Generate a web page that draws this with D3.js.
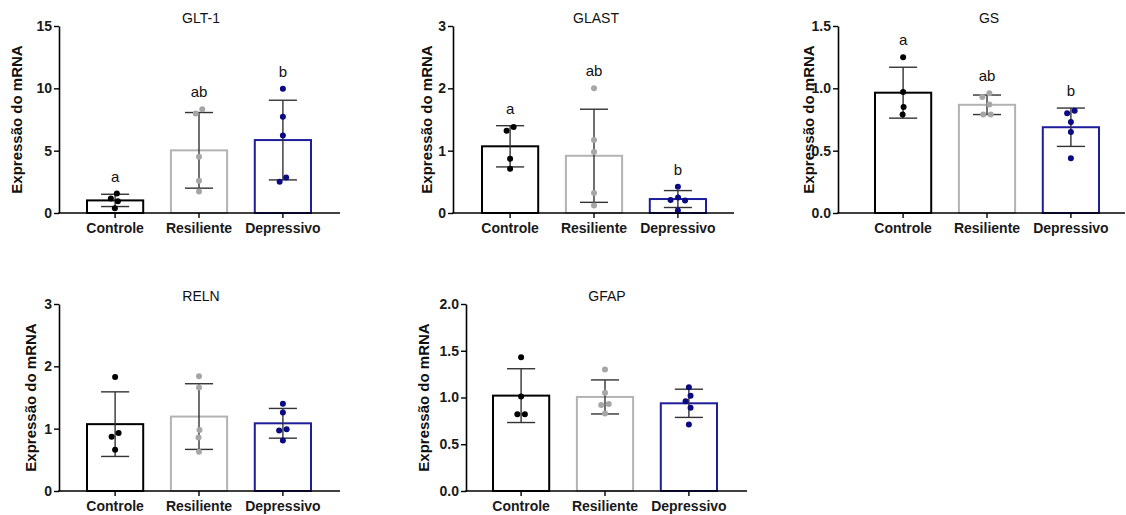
<!DOCTYPE html>
<html>
<head>
<meta charset="utf-8">
<script src="https://cdn.jsdelivr.net/npm/d3@7"></script>
<style>
  body { margin: 0; background: #fff; }
  svg { display: block; }
</style>
</head>
<body>
<svg id="chart" width="1126" height="515"></svg>
<script>
// Experimental groups
const groups = ["Controle", "Resiliente", "Depressivo"];

// Relative mRNA expression per animal, one inner list per group
const glt1 = [[1.56, 1.16, 0.94, 0.38], [8.33, 7.98, 4.52, 2.58, 1.72], [9.97, 7.72, 6.21, 2.85, 2.50]];
const glast = [[1.38, 1.32, 0.87, 0.71], [2.00, 1.17, 0.98, 0.32, 0.12], [0.42, 0.25, 0.21, 0.20, 0.04]];
const gs = [[1.25, 0.97, 0.85, 0.79], [0.96, 0.93, 0.87, 0.79, 0.79], [0.82, 0.80, 0.73, 0.65, 0.44]];
const reln = [[1.83, 0.93, 0.87, 0.66], [1.84, 1.66, 0.98, 0.86, 0.63], [1.40, 1.26, 0.99, 0.97, 0.81]];
const gfap = [[1.43, 1.01, 0.82, 0.82], [1.30, 1.05, 0.93, 0.92, 0.83], [1.11, 1.02, 0.96, 0.89, 0.71]];

// Y-axis tick values
const glt1Ticks = [0, 5, 10, 15];
const glastTicks = [0, 1, 2, 3];
const gsTicks = [0, 0.5, 1.0, 1.5];
const relnTicks = [0, 1, 2, 3];
const gfapTicks = [0, 0.5, 1.0, 1.5, 2.0];

// Significance letters (groups sharing a letter do not differ)
const glt1Letters = ["a", "ab", "b"];
const glastLetters = ["a", "ab", "b"];
const gsLetters = ["a", "ab", "b"];

const yLabel = "Expressão do mRNA";

// Group styling
const barStroke = ["#000000", "#b3b3b3", "#1e1e9c"];
const dotFill = ["#000000", "#a6a6a6", "#0a0a82"];
const errColor = "#333333";

// Panel placement on the page
const panels = [
  { title: "GLT-1", data: glt1, ticks: glt1Ticks, fmt: d3.format("d"), letters: glt1Letters,
    ax: 59, axEnd: 340, barL: 87, top: 26, bottom: 213, labelX: 17 },
  { title: "GLAST", data: glast, ticks: glastTicks, fmt: d3.format("d"), letters: glastLetters,
    ax: 453, axEnd: 734, barL: 482, top: 26, bottom: 213, labelX: 426.5 },
  { title: "GS", data: gs, ticks: gsTicks, fmt: d3.format(".1f"), letters: gsLetters,
    ax: 838, axEnd: 1125, barL: 875, top: 26, bottom: 213, labelX: 809 },
  { title: "RELN", data: reln, ticks: relnTicks, fmt: d3.format("d"), letters: null,
    ax: 59, axEnd: 340, barL: 87, top: 304, bottom: 491, labelX: 31 },
  { title: "GFAP", data: gfap, ticks: gfapTicks, fmt: d3.format(".1f"), letters: null,
    ax: 466, axEnd: 747, barL: 493, top: 304, bottom: 491, labelX: 424 }
];

const FONT = "'Liberation Sans', Arial, Helvetica, sans-serif";
const BAR_SPAN = 224;
const DOT_R = 3;

const svg = d3.select("#chart");

// Place dots side by side where they would overlap, then centre each
// cluster of touching dots on the bar (simple beeswarm)
function swarm(values, y, cx) {
  const minDist = 2 * DOT_R + 1.5;
  const pts = values.map(v => ({ v, y: y(v) })).sort((a, b) => a.y - b.y);
  const placed = [];
  const offsets = [0];
  for (let k = 1; k <= 30; k++) offsets.push(-k * 0.5, k * 0.5);
  for (const p of pts) {
    for (const o of offsets) {
      const x = cx + o;
      const hit = placed.some(q => Math.hypot(q.x - x, q.y - p.y) < minDist);
      if (!hit) { p.x = x; break; }
    }
    if (p.x === undefined) p.x = cx;
    placed.push(p);
  }
  // group vertically chained dots and centre each group
  const clusters = [];
  placed.forEach((p, i) => {
    if (i > 0 && p.y - placed[i - 1].y < minDist) clusters[clusters.length - 1].push(p);
    else clusters.push([p]);
  });
  clusters.forEach(c => {
    if (c.length < 2) return;
    const shift = cx - d3.mean(c, p => p.x);
    c.forEach(p => { p.x += shift; });
  });
  return placed;
}

panels.forEach(P => {
  const g = svg.append("g");
  const maxTick = d3.max(P.ticks);

  const y = d3.scaleLinear().domain([0, maxTick]).range([P.bottom, P.top]);
  const x = d3.scaleBand().domain(groups)
    .range([P.barL, P.barL + BAR_SPAN])
    .paddingInner(0.33).paddingOuter(0);
  const bw = x.bandwidth();

  const stats = P.data.map((vals, i) => {
    const mean = d3.mean(vals);
    const sd = d3.deviation(vals);
    return { group: groups[i], i, vals, mean, sd };
  });

  // Bars
  g.selectAll("rect.bar").data(stats).join("rect")
    .attr("class", "bar")
    .attr("x", d => x(d.group))
    .attr("width", bw)
    .attr("y", d => y(d.mean))
    .attr("height", d => y(0) - y(d.mean))
    .attr("fill", "#fff")
    .attr("stroke", d => barStroke[d.i])
    .attr("stroke-width", 2);

  // Error bars (mean ± SD)
  const eb = g.selectAll("g.err").data(stats).join("g").attr("class", "err")
    .attr("stroke", errColor).attr("stroke-width", 1.4).attr("fill", "none");
  eb.append("line")
    .attr("x1", d => x(d.group) + bw / 2).attr("x2", d => x(d.group) + bw / 2)
    .attr("y1", d => y(d.mean + d.sd)).attr("y2", d => y(Math.max(0, d.mean - d.sd)));
  eb.append("line")
    .attr("x1", d => x(d.group) + bw / 4).attr("x2", d => x(d.group) + 3 * bw / 4)
    .attr("y1", d => y(d.mean + d.sd)).attr("y2", d => y(d.mean + d.sd));
  eb.append("line")
    .attr("x1", d => x(d.group) + bw / 4).attr("x2", d => x(d.group) + 3 * bw / 4)
    .attr("y1", d => y(Math.max(0, d.mean - d.sd))).attr("y2", d => y(Math.max(0, d.mean - d.sd)));

  // Individual points
  stats.forEach(s => {
    const pts = swarm(s.vals, y, x(s.group) + bw / 2);
    g.append("g").selectAll("circle").data(pts).join("circle")
      .attr("cx", d => d.x).attr("cy", d => d.y).attr("r", DOT_R)
      .attr("fill", dotFill[s.i]);
  });

  // Significance letters above the highest element of each group
  if (P.letters) {
    g.selectAll("text.letter").data(stats).join("text")
      .attr("class", "letter")
      .attr("x", d => x(d.group) + bw / 2)
      .attr("y", d => y(Math.max(d3.max(d.vals), d.mean + d.sd)) - 12)
      .attr("text-anchor", "middle")
      .attr("font-family", FONT).attr("font-size", 15).attr("fill", "#111")
      .text((d, i) => P.letters[i]);
  }

  // Y axis
  const yAxis = g.append("g")
    .attr("transform", `translate(${P.ax},0)`)
    .call(d3.axisLeft(y).tickValues(P.ticks).tickFormat(P.fmt).tickSize(5).tickSizeOuter(0).tickPadding(2));
  yAxis.select(".domain").attr("stroke", "#000").attr("stroke-width", 1.6);
  yAxis.selectAll(".tick line").attr("stroke", "#000").attr("stroke-width", 1.4);
  yAxis.selectAll(".tick text")
    .attr("font-family", FONT).attr("font-size", 14).attr("font-weight", "bold").attr("fill", "#1a1a1a");

  // X axis: baseline across the plot plus ticks under each bar
  g.append("line")
    .attr("x1", P.ax - 0.8).attr("x2", P.axEnd)
    .attr("y1", y(0)).attr("y2", y(0))
    .attr("stroke", "#000").attr("stroke-width", 1.6);
  const xAxis = g.append("g")
    .attr("transform", `translate(0,${y(0)})`)
    .call(d3.axisBottom(x).tickSize(5).tickSizeOuter(0).tickPadding(5));
  xAxis.select(".domain").remove();
  xAxis.selectAll(".tick line").attr("stroke", "#000").attr("stroke-width", 1.4);
  xAxis.selectAll(".tick text")
    .attr("font-family", FONT).attr("font-size", 14).attr("font-weight", "bold").attr("fill", "#1a1a1a");

  // Y-axis title
  g.append("text")
    .attr("transform", `translate(${P.labelX + 5},${(P.top + P.bottom) / 2}) rotate(-90)`)
    .attr("text-anchor", "middle")
    .attr("font-family", FONT).attr("font-size", 15).attr("font-weight", "bold").attr("fill", "#111")
    .text(yLabel);

  // Panel title
  g.append("text")
    .attr("x", P.barL + BAR_SPAN / 2 + 2)
    .attr("y", P.top - 3)
    .attr("text-anchor", "middle")
    .attr("font-family", FONT).attr("font-size", 14).attr("fill", "#111")
    .text(P.title);
});
</script>
</body>
</html>
